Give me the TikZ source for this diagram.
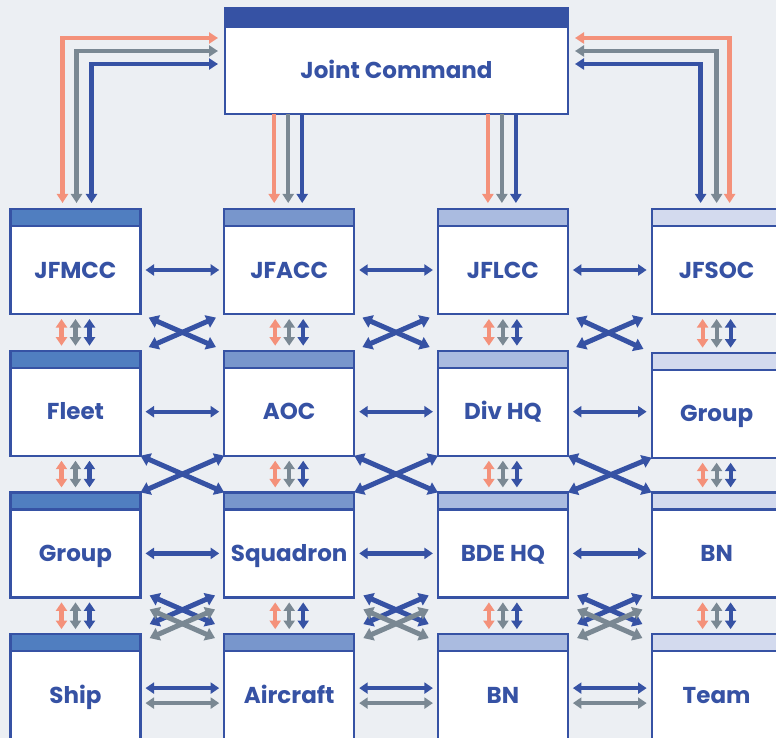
\documentclass[tikz,border=0pt]{standalone}
\usepackage{fontspec}
\setsansfont{Poppins}
\usepackage{xcolor}
\usetikzlibrary{positioning, arrows.meta, calc}

\definecolor{cnavy}{HTML}{3652A4}
\definecolor{corange}{HTML}{F4917A}
\definecolor{cgray}{HTML}{7A8893}
\definecolor{cpaper}{HTML}{ECEFF3}
\definecolor{hdrA}{HTML}{507EC0}
\definecolor{hdrB}{HTML}{7896CC}
\definecolor{hdrC}{HTML}{AABBE0}
\definecolor{hdrD}{HTML}{D3DAEE}

\begin{document}
\begin{tikzpicture}[x=1pt, y=-1pt, node distance=141.7pt and 213.7pt, on grid,
        box/.style={draw=cnavy, line width=2.2pt, fill=white, inner sep=0pt, outer sep=0pt,
            minimum width=130pt, minimum height=88pt, text=cnavy, text height=16.5pt, text depth=0pt,
            font=\sffamily\bfseries\fontsize{23}{23}\selectfont},
        hdr/.style={draw=cnavy, line width=2.2pt, fill=#1, inner sep=0pt, outer sep=0pt,
            minimum width=130pt, minimum height=17pt},
        unit/.style={box, label={[hdr=#1]above:{}}},
        tri/.style={line width=4.2pt, >={Triangle[width=11pt,length=8.5pt]}, <->, shorten <=5pt, shorten >=5pt},
        big/.style={line width=4.4pt, >={Triangle[width=11pt,length=9pt]}},
        cross/.style={line width=5pt, >={Triangle[width=13pt,length=9.5pt]}, <->}]

        \fill[cpaper] (0,0) rectangle (776,738);
        \useasboundingbox (0,0) rectangle (776,738);

        \node[box, minimum width=343pt, minimum height=87pt,
            label={[hdr=cnavy, minimum width=343pt, minimum height=19pt]above:{}}] (jc) at (396.5,70.5) {Joint Command};

        \node[unit=hdrA] (jfmcc) at (75.5,270) {JFMCC};
        \node[unit=hdrB] (jfacc) [right=of jfmcc] {JFACC};
        \node[unit=hdrC] (jflcc) [right=of jfacc] {JFLCC};
        \node[unit=hdrD] (jfsoc) [right=of jflcc] {JFSOC};

        \node[unit=hdrA] (fleet) [below=of jfmcc] {Fleet};
        \node[unit=hdrB] (aoc) [right=of fleet] {AOC};
        \node[unit=hdrC] (divhq) [right=of aoc] {Div HQ};
        \node[unit=hdrD, yshift=-2pt] (sofgrp) [right=of divhq] {Group};

        \node[unit=hdrA] (navgrp) [below=of fleet] {Group};
        \node[unit=hdrB] (sqdn) [right=of navgrp] {Squadron};
        \node[unit=hdrC] (bdehq) [right=of sqdn] {BDE HQ};
        \node[unit=hdrD] (sofbn) [right=of bdehq] {BN};

        \node[unit=hdrA] (ship) [below=of navgrp] {Ship};
        \node[unit=hdrB] (acft) [right=of ship] {Aircraft};
        \node[unit=hdrC] (lbn) [right=of acft] {BN};
        \node[unit=hdrD] (team) [right=of lbn] {Team};

        % joint command links
        \draw[big, <->, corange, shorten <=7pt, shorten >=6pt] ([yshift=-11pt]jc.north west) -| ([xshift=-13pt,yshift=17pt]jfmcc.north);
        \draw[big, <->, cgray, shorten <=7pt, shorten >=6pt] ([yshift=-24pt]jc.north west) -| ([xshift=1pt,yshift=17pt]jfmcc.north);
        \draw[big, <->, cnavy, shorten <=7pt, shorten >=6pt] ([yshift=-37pt]jc.north west) -| ([xshift=16pt,yshift=17pt]jfmcc.north);
        \draw[big, <->, corange, shorten <=7pt, shorten >=6pt] ([yshift=-11pt]jc.north east) -| ([xshift=13pt,yshift=17pt]jfsoc.north);
        \draw[big, <->, cgray, shorten <=7pt, shorten >=6pt] ([yshift=-24pt]jc.north east) -| ([yshift=17pt]jfsoc.north);
        \draw[big, <->, cnavy, shorten <=7pt, shorten >=6pt] ([yshift=-37pt]jc.north east) -| ([xshift=-16pt,yshift=17pt]jfsoc.north);
        \draw[big, ->, corange, shorten >=6pt] ($(jc.south -| jfacc.north)+(-15,0)$) -- ([xshift=-15pt,yshift=17pt]jfacc.north);
        \draw[big, ->, cgray, shorten >=6pt] ($(jc.south -| jfacc.north)+(-1,0)$) -- ([xshift=-1pt,yshift=17pt]jfacc.north);
        \draw[big, ->, cnavy, shorten >=6pt] ($(jc.south -| jfacc.north)+(13,0)$) -- ([xshift=13pt,yshift=17pt]jfacc.north);
        \draw[big, ->, corange, shorten >=6pt] ($(jc.south -| jflcc.north)+(-15,0)$) -- ([xshift=-15pt,yshift=17pt]jflcc.north);
        \draw[big, ->, cgray, shorten >=6pt] ($(jc.south -| jflcc.north)+(-1,0)$) -- ([xshift=-1pt,yshift=17pt]jflcc.north);
        \draw[big, ->, cnavy, shorten >=6pt] ($(jc.south -| jflcc.north)+(13,0)$) -- ([xshift=13pt,yshift=17pt]jflcc.north);

        % up and down the chain
        \path[tri]
        ([xshift=-14pt]jfmcc.south) edge[corange] ([xshift=-14pt,yshift=17pt]fleet.north)
        (jfmcc.south) edge[cgray] ([yshift=17pt]fleet.north)
        ([xshift=14pt]jfmcc.south) edge[cnavy] ([xshift=14pt,yshift=17pt]fleet.north)
        ([xshift=-14pt]jfacc.south) edge[corange] ([xshift=-14pt,yshift=17pt]aoc.north)
        (jfacc.south) edge[cgray] ([yshift=17pt]aoc.north)
        ([xshift=14pt]jfacc.south) edge[cnavy] ([xshift=14pt,yshift=17pt]aoc.north)
        ([xshift=-14pt]jflcc.south) edge[corange] ([xshift=-14pt,yshift=17pt]divhq.north)
        (jflcc.south) edge[cgray] ([yshift=17pt]divhq.north)
        ([xshift=14pt]jflcc.south) edge[cnavy] ([xshift=14pt,yshift=17pt]divhq.north)
        ([xshift=-14pt]jfsoc.south) edge[corange] ([xshift=-14pt,yshift=17pt]sofgrp.north)
        (jfsoc.south) edge[cgray] ([yshift=17pt]sofgrp.north)
        ([xshift=14pt]jfsoc.south) edge[cnavy] ([xshift=14pt,yshift=17pt]sofgrp.north)
        ([xshift=-14pt]fleet.south) edge[corange] ([xshift=-14pt,yshift=17pt]navgrp.north)
        (fleet.south) edge[cgray] ([yshift=17pt]navgrp.north)
        ([xshift=14pt]fleet.south) edge[cnavy] ([xshift=14pt,yshift=17pt]navgrp.north)
        ([xshift=-14pt]aoc.south) edge[corange] ([xshift=-14pt,yshift=17pt]sqdn.north)
        (aoc.south) edge[cgray] ([yshift=17pt]sqdn.north)
        ([xshift=14pt]aoc.south) edge[cnavy] ([xshift=14pt,yshift=17pt]sqdn.north)
        ([xshift=-14pt]divhq.south) edge[corange] ([xshift=-14pt,yshift=17pt]bdehq.north)
        (divhq.south) edge[cgray] ([yshift=17pt]bdehq.north)
        ([xshift=14pt]divhq.south) edge[cnavy] ([xshift=14pt,yshift=17pt]bdehq.north)
        ([xshift=-14pt]sofgrp.south) edge[corange] ([xshift=-14pt,yshift=17pt]sofbn.north)
        (sofgrp.south) edge[cgray] ([yshift=17pt]sofbn.north)
        ([xshift=14pt]sofgrp.south) edge[cnavy] ([xshift=14pt,yshift=17pt]sofbn.north)
        ([xshift=-14pt]navgrp.south) edge[corange] ([xshift=-14pt,yshift=17pt]ship.north)
        (navgrp.south) edge[cgray] ([yshift=17pt]ship.north)
        ([xshift=14pt]navgrp.south) edge[cnavy] ([xshift=14pt,yshift=17pt]ship.north)
        ([xshift=-14pt]sqdn.south) edge[corange] ([xshift=-14pt,yshift=17pt]acft.north)
        (sqdn.south) edge[cgray] ([yshift=17pt]acft.north)
        ([xshift=14pt]sqdn.south) edge[cnavy] ([xshift=14pt,yshift=17pt]acft.north)
        ([xshift=-14pt]bdehq.south) edge[corange] ([xshift=-14pt,yshift=17pt]lbn.north)
        (bdehq.south) edge[cgray] ([yshift=17pt]lbn.north)
        ([xshift=14pt]bdehq.south) edge[cnavy] ([xshift=14pt,yshift=17pt]lbn.north)
        ([xshift=-14pt]sofbn.south) edge[corange] ([xshift=-14pt,yshift=17pt]team.north)
        (sofbn.south) edge[cgray] ([yshift=17pt]team.north)
        ([xshift=14pt]sofbn.south) edge[cnavy] ([xshift=14pt,yshift=17pt]team.north);

        % side by side
        \path[tri, cnavy]
        (jfmcc) edge (jfacc)
        (jfacc) edge (jflcc)
        (jflcc) edge (jfsoc)
        (fleet) edge (aoc)
        (aoc) edge (divhq)
        (divhq) edge (sofgrp.west |- divhq)
        (navgrp) edge (sqdn)
        (sqdn) edge (bdehq)
        (bdehq) edge (sofbn)
        ([yshift=7pt]ship.east) edge ([yshift=7pt]acft.west)
        ([yshift=7pt]acft.east) edge ([yshift=7pt]lbn.west)
        ([yshift=7pt]lbn.east) edge ([yshift=7pt]team.west)
        ([yshift=-8pt]ship.east) edge[cgray] ([yshift=-8pt]acft.west)
        ([yshift=-8pt]acft.east) edge[cgray] ([yshift=-8pt]lbn.west)
        ([yshift=-8pt]lbn.east) edge[cgray] ([yshift=-8pt]team.west);

        % diagonal links
        \path[cross, cnavy, shorten <=9pt, shorten >=9pt]
        (jfmcc.south east) edge ([yshift=17pt]aoc.north west)
        (jfacc.south west) edge ([yshift=17pt]fleet.north east)
        (jfacc.south east) edge ([yshift=17pt]divhq.north west)
        (jflcc.south west) edge ([yshift=17pt]aoc.north east)
        (jflcc.south east) edge ([yshift=17pt]sofgrp.north west)
        (jfsoc.south west) edge ([yshift=17pt]divhq.north east);
        \path[cross, cnavy]
        (fleet.south east) edge ([yshift=17pt]sqdn.north west)
        (aoc.south west) edge ([yshift=17pt]navgrp.north east)
        (aoc.south east) edge ([yshift=17pt]bdehq.north west)
        (divhq.south west) edge ([yshift=17pt]sqdn.north east)
        (divhq.south east) edge ([yshift=17pt]sofbn.north west)
        (sofgrp.south west) edge ([yshift=17pt]bdehq.north east);
        \path[cross, shorten <=10pt, shorten >=10pt]
        ([yshift=6pt]navgrp.south east) edge[cnavy] ([yshift=23pt]acft.north west)
        ([yshift=6pt]sqdn.south west) edge[cnavy] ([yshift=23pt]ship.north east)
        ([yshift=6pt]sqdn.south east) edge[cnavy] ([yshift=23pt]lbn.north west)
        ([yshift=6pt]bdehq.south west) edge[cnavy] ([yshift=23pt]acft.north east)
        ([yshift=6pt]bdehq.south east) edge[cnavy] ([yshift=23pt]team.north west)
        ([yshift=6pt]sofbn.south west) edge[cnavy] ([yshift=23pt]lbn.north east)
        ([yshift=-8pt]navgrp.south east) edge[cgray] ([yshift=9pt]acft.north west)
        ([yshift=-8pt]sqdn.south west) edge[cgray] ([yshift=9pt]ship.north east)
        ([yshift=-8pt]sqdn.south east) edge[cgray] ([yshift=9pt]lbn.north west)
        ([yshift=-8pt]bdehq.south west) edge[cgray] ([yshift=9pt]acft.north east)
        ([yshift=-8pt]bdehq.south east) edge[cgray] ([yshift=9pt]team.north west)
        ([yshift=-8pt]sofbn.south west) edge[cgray] ([yshift=9pt]lbn.north east);

    \end{tikzpicture}
\end{document}
